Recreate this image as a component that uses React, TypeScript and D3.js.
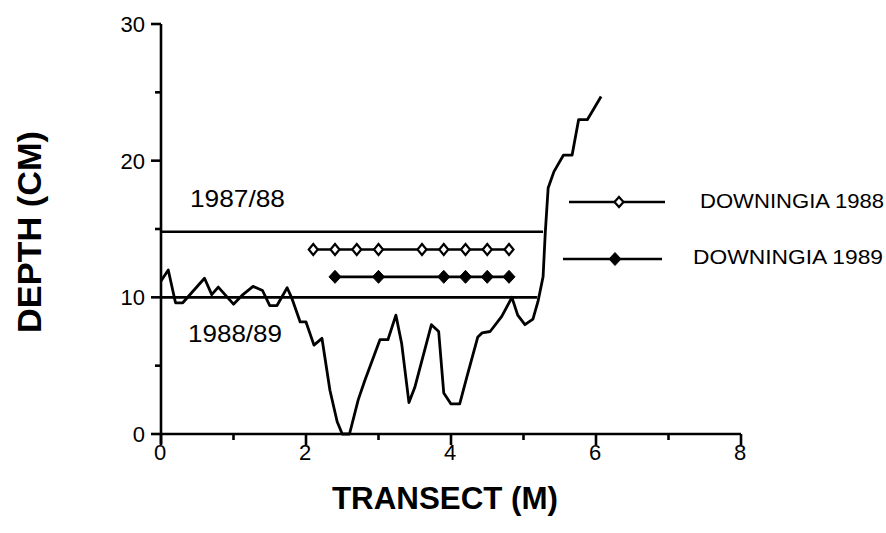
import React from "react";
import * as d3 from "d3";

// ---- data ----
const profileX = [0.0, 0.1, 0.2, 0.3, 0.6, 0.7, 0.79, 1.0, 1.13, 1.27, 1.4, 1.5, 1.6, 1.74, 1.8, 1.92, 2.0, 2.11, 2.22, 2.33, 2.43, 2.5, 2.6, 2.72, 2.81, 3.02, 3.13, 3.24, 3.32, 3.42, 3.5, 3.73, 3.83, 3.9, 4.0, 4.12, 4.22, 4.37, 4.43, 4.54, 4.7, 4.84, 4.92, 5.02, 5.13, 5.2, 5.27, 5.3, 5.34, 5.42, 5.55, 5.67, 5.76, 5.88, 5.96, 6.07];
const profileDepth = [11.2, 12.0, 9.6, 9.6, 11.4, 10.2, 10.75, 9.5, 10.2, 10.8, 10.5, 9.4, 9.4, 10.7, 10.0, 8.2, 8.2, 6.5, 7.0, 3.2, 0.9, 0.0, 0.0, 2.5, 3.9, 6.9, 6.9, 8.7, 6.6, 2.3, 3.4, 8.0, 7.5, 3.0, 2.2, 2.2, 4.2, 7.1, 7.4, 7.5, 8.6, 10.0, 8.7, 8.0, 8.4, 9.7, 11.5, 14.7, 18.0, 19.2, 20.4, 20.4, 23.0, 23.0, 23.7, 24.7];

const levelLabels = ["1987/88", "1988/89"];
const levelDepth = [14.8, 10.0];
const levelEnd = [5.27, 5.19];

const downingia1988X = [2.1, 2.4, 2.7, 3.0, 3.6, 3.9, 4.2, 4.5, 4.8];
const downingia1988Depth = 13.5;
const downingia1989X = [2.4, 3.0, 3.9, 4.2, 4.5, 4.8];
const downingia1989Depth = 11.5;

const seriesNames = ["DOWNINGIA 1988", "DOWNINGIA 1989"];

const xMajorTicks = [0, 2, 4, 6, 8];
const xMinorTicks = [1, 3, 5, 7];
const yMajorTicks = [0, 10, 20, 30];
const yMinorTicks = [5, 15, 25];

const INK = "#000";
const FONT = "'Liberation Sans', Arial, sans-serif";

export default function App() {
  const x = d3.scaleLinear().domain([0, 8]).range([161, 741]);
  const y = d3.scaleLinear().domain([0, 30]).range([434, 24]);

  const pts: [number, number][] = profileX.map((v, i) => [v, profileDepth[i]]);
  const line = d3
    .line<[number, number]>()
    .x((d) => x(d[0]))
    .y((d) => y(d[1]))
    .curve(d3.curveLinear);

  const diamond = (cx: number, cy: number, w: number, h: number) =>
    `M${cx},${cy - h}L${cx + w},${cy}L${cx},${cy + h}L${cx - w},${cy}Z`;

  const sw = 2.6;

  return (
    <svg
      width={886}
      height={533}
      style={{ position: "absolute", left: 0, top: 0, background: "#fff" }}
      fontFamily={FONT}
    >
      <rect x={0} y={0} width={886} height={533} fill="#fff" />

      {/* Y axis */}
      <line x1={x(0)} x2={x(0)} y1={y(30)} y2={y(0) + 10} stroke={INK} strokeWidth={sw} />
      {yMajorTicks.map((t) => (
        <line key={"ym" + t} x1={x(0) - 10} x2={x(0)} y1={y(t)} y2={y(t)} stroke={INK} strokeWidth={sw} />
      ))}
      {yMinorTicks.map((t) => (
        <line key={"yn" + t} x1={x(0) - 6} x2={x(0)} y1={y(t)} y2={y(t)} stroke={INK} strokeWidth={sw} />
      ))}
      {yMajorTicks.map((t) => (
        <text key={"yl" + t} x={145} y={y(t) + 8} fontSize={22} textAnchor="end" fill={INK}>
          {t}
        </text>
      ))}

      {/* X axis */}
      <line x1={x(0)} x2={x(8)} y1={y(0)} y2={y(0)} stroke={INK} strokeWidth={sw} />
      {xMajorTicks.map((t) => (
        <line key={"xm" + t} x1={x(t)} x2={x(t)} y1={y(0)} y2={y(0) + 11} stroke={INK} strokeWidth={sw} />
      ))}
      {xMinorTicks.map((t) => (
        <line key={"xn" + t} x1={x(t)} x2={x(t)} y1={y(0)} y2={y(0) + 6} stroke={INK} strokeWidth={sw} />
      ))}
      {xMajorTicks.map((t) => (
        <text key={"xl" + t} x={x(t) - 1} y={460} fontSize={22} textAnchor="middle" fill={INK}>
          {t}
        </text>
      ))}

      {/* axis titles */}
      <text x={332} y={509} fontSize={31} fontWeight="bold" textLength={226} lengthAdjust="spacingAndGlyphs" fill={INK}>
        TRANSECT (M)
      </text>
      <text
        transform={`translate(41,232) rotate(-90)`}
        fontSize={33}
        fontWeight="bold"
        textAnchor="middle"
        textLength={202}
        lengthAdjust="spacingAndGlyphs"
        fill={INK}
      >
        DEPTH (CM)
      </text>

      {/* water levels */}
      {levelDepth.map((d, i) => (
        <line key={"lv" + i} x1={x(0)} x2={x(levelEnd[i])} y1={y(d)} y2={y(d)} stroke={INK} strokeWidth={sw} />
      ))}
      <text x={190} y={207} fontSize={24} textLength={95} lengthAdjust="spacingAndGlyphs" fill={INK}>
        {levelLabels[0]}
      </text>
      <text x={188} y={342} fontSize={24} textLength={94} lengthAdjust="spacingAndGlyphs" fill={INK}>
        {levelLabels[1]}
      </text>

      {/* profile */}
      <path d={line(pts) || ""} fill="none" stroke={INK} strokeWidth={2.8} strokeLinejoin="round" />

      {/* Downingia 1988 */}
      <line
        x1={x(downingia1988X[0])}
        x2={x(downingia1988X[downingia1988X.length - 1])}
        y1={y(downingia1988Depth)}
        y2={y(downingia1988Depth)}
        stroke={INK}
        strokeWidth={sw}
      />
      {downingia1988X.map((v, i) => (
        <path key={"o" + i} d={diamond(x(v), y(downingia1988Depth), 4.5, 5.5)} fill="#fff" stroke={INK} strokeWidth={2.2} />
      ))}

      {/* Downingia 1989 */}
      <line
        x1={x(downingia1989X[0])}
        x2={x(downingia1989X[downingia1989X.length - 1])}
        y1={y(downingia1989Depth)}
        y2={y(downingia1989Depth)}
        stroke={INK}
        strokeWidth={sw}
      />
      {downingia1989X.map((v, i) => (
        <path key={"f" + i} d={diamond(x(v), y(downingia1989Depth), 6, 6.5)} fill={INK} stroke={INK} strokeWidth={1} />
      ))}

      {/* legend */}
      <line x1={569} x2={665} y1={202} y2={202} stroke={INK} strokeWidth={sw} />
      <path d={diamond(619, 202, 4.5, 5)} fill="#fff" stroke={INK} strokeWidth={2.2} />
      <text x={700} y={208} fontSize={20} textLength={184} lengthAdjust="spacingAndGlyphs" fill={INK}>
        {seriesNames[0]}
      </text>
      <line x1={563} x2={662} y1={259} y2={259} stroke={INK} strokeWidth={sw} />
      <path d={diamond(615, 259, 6, 6.5)} fill={INK} stroke={INK} strokeWidth={1} />
      <text x={693} y={264} fontSize={20} textLength={190} lengthAdjust="spacingAndGlyphs" fill={INK}>
        {seriesNames[1]}
      </text>
    </svg>
  );
}
